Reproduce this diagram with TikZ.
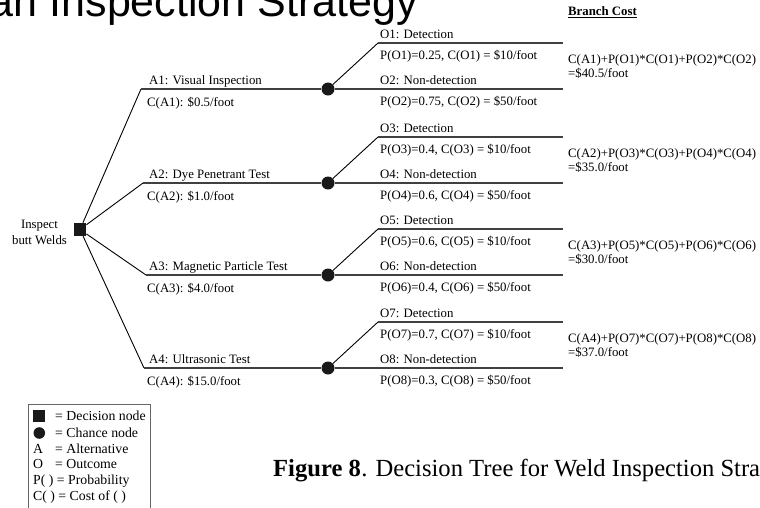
\documentclass[tikz,border=0pt]{standalone}
\usepackage{fontspec}
\setmainfont{Liberation Serif}
\newfontfamily\titlefont{Liberation Sans}
\begin{document}
\begin{tikzpicture}[x=1pt,y=-1pt,
  txt/.style={anchor=base west, inner sep=0pt, font=\fontsize{12.8}{15}\selectfont},
  leg/.style={anchor=base west, inner sep=0pt, font=\fontsize{13.8}{16}\selectfont},
  hline/.style={draw=black!75, line width=1.5pt},
  dline/.style={draw=black, line width=0.9pt},
  decision/.style={rectangle, fill=black!90, minimum width=12.5pt, minimum height=13pt, inner sep=0pt},
  chance/.style={circle, fill=black!90, minimum size=13pt, inner sep=0pt},
]
\useasboundingbox (0,0) rectangle (760,507);
\clip (0,0) rectangle (760,507);
\fill[white] (0,0) rectangle (760,507);

% heading, cut by the top edge
\node[anchor=base east, inner sep=0pt, font=\titlefont\fontsize{43}{50}\selectfont] (title) at (418,16) {an Inspection Strategy};

% column header
\node[txt, font=\bfseries\fontsize{12.8}{15}\selectfont] (bchead) at (568,15.5) {\underline{Branch Cost}};

% root decision
\node[decision] (dec) at (80,229.5) {};
\node[align=center, inner sep=0pt, font=\fontsize{12.8}{16}\selectfont] (root) at (39.5,232) {Inspect\\butt Welds};

% one alternative per row, each with a chance node and two outcomes
\foreach \k/\ax/\cy/\aname/\acost/\pa/\pb/\total in
 {1/141/89/Visual Inspection/0.5/0.25/0.75/40.5,
  2/143/183/Dye Penetrant Test/1.0/0.4/0.6/35.0,
  3/146/275/Magnetic Particle Test/4.0/0.6/0.4/30.0,
  4/144/368/Ultrasonic Test/15.0/0.7/0.3/37.0}
{
  \pgfmathtruncatemacro{\oa}{2*\k-1}
  \pgfmathtruncatemacro{\ob}{2*\k}
  \pgfmathsetmacro{\ty}{\cy-46}
  \coordinate (a\k) at (\ax,\cy);
  \node[chance] (c\k) at (328,\cy) {};
  \coordinate (os\k) at (378,\ty);
  \coordinate (oe\oa) at (563,\ty);
  \coordinate (oe\ob) at (563,\cy);
  \draw[dline] (dec) -- (a\k);
  \draw[hline] (a\k) -- (c\k);
  \draw[dline] (c\k) -- (os\k);
  \draw[hline] (os\k) -- (oe\oa);
  \draw[hline] (c\k) -- (oe\ob);
  \node[txt] (an\k) at (149,\cy-4.5) {A\k: \aname};
  \node[txt] (ac\k) at (147,\cy+17) {C(A\k): \$\acost/foot};
  \node[txt] (ol\oa) at (380,\ty-4.5) {O\oa: Detection};
  \node[txt] (op\oa) at (380,\ty+16.5) {P(O\oa)=\pa, C(O\oa) = \$10/foot};
  \node[txt] (ol\ob) at (380,\cy-4.5) {O\ob: Non-detection};
  \node[txt] (op\ob) at (380,\cy+16.5) {P(O\ob)=\pb, C(O\ob) = \$50/foot};
  \node[txt] (bf\k) at (568,\ty+20.5) {C(A\k)+P(O\oa)*C(O\oa)+P(O\ob)*C(O\ob)};
  \node[txt] (bt\k) at (568,\ty+34.5) {=\$\total/foot};
}

% key
\draw[draw=black!60, line width=0.8pt] (28,404) rectangle (150,520);
\node[decision, minimum width=12pt, minimum height=12pt] (kdec) at (39,416) {};
\node[chance, minimum size=11.6pt] (kch) at (39.3,433) {};
\node[leg] (k1) at (55,420.5) {= Decision node};
\node[leg] (k2) at (55,437) {= Chance node};
\node[leg] (k3a) at (33,453) {A};
\node[leg] (k3) at (55,453) {= Alternative};
\node[leg] (k4a) at (33,468.5) {O};
\node[leg] (k4) at (55,468.5) {= Outcome};
\node[leg] (k5) at (33,484) {P( ) = Probability};
\node[leg] (k6) at (33,500) {C( ) = Cost of ( )};

% caption, running past the right edge
\node[anchor=base west, inner sep=0pt, font=\bfseries\fontsize{24.6}{28}\selectfont] (fig) at (273,476) {Figure 8};
\node[anchor=base west, inner sep=0pt, font=\fontsize{24.6}{28}\selectfont] (cap) at (fig.base east) {. Decision Tree for Weld Inspection Strategy};
\end{tikzpicture}
\end{document}
